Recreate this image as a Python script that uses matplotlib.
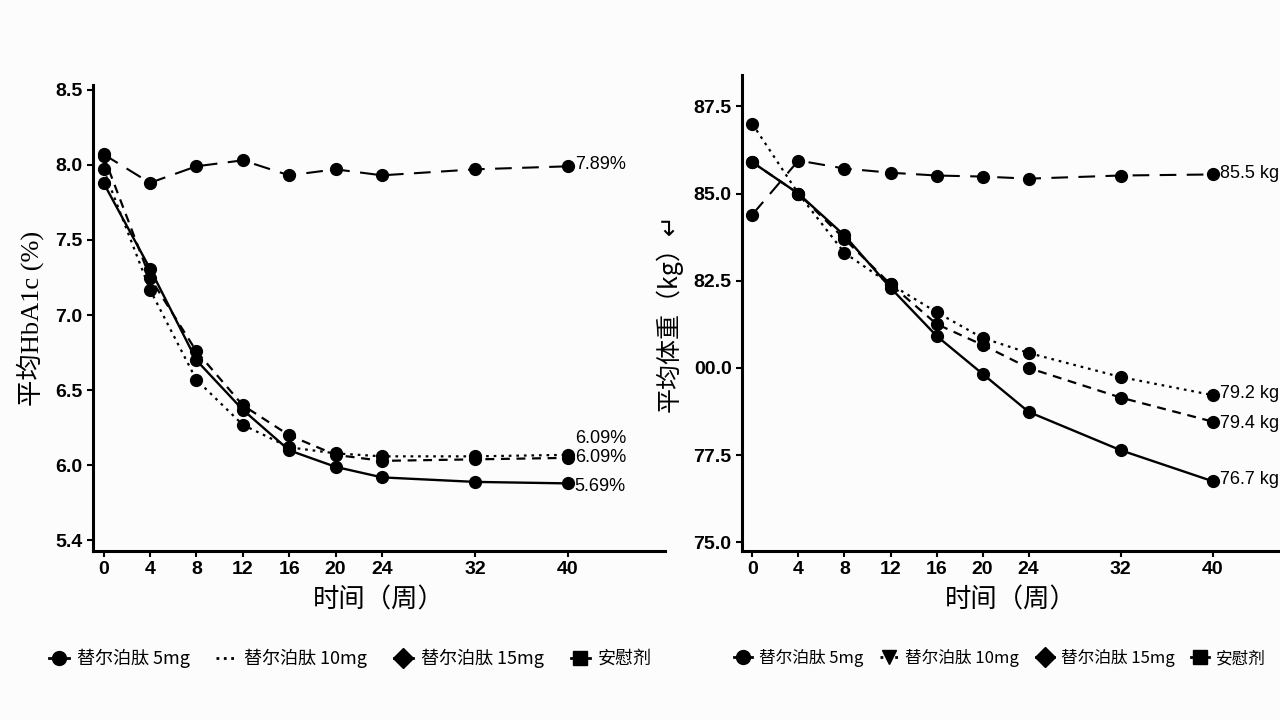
import matplotlib
matplotlib.use("Agg")
import matplotlib.pyplot as plt
from matplotlib.lines import Line2D

plt.rcParams.update({
    "font.family": ["Liberation Sans", "Noto Sans CJK SC", "DejaVu Sans"],
    "axes.linewidth": 2.2,
    "xtick.major.width": 1.5,
    "ytick.major.width": 1.5,
    "xtick.major.size": 4,
    "ytick.major.size": 4,
})
CJK = ["Noto Sans CJK SC", "DejaVu Sans"]

# time points (weeks)
WEEKS = [0, 4, 8, 12, 16, 20, 24, 32, 40]

# HbA1c (%)
HBA_5MG = [7.97, 7.17, 6.57, 6.27, 6.12, 6.08, 6.06, 6.06, 6.07]
HBA_10MG = [8.06, 7.25, 6.76, 6.40, 6.20, 6.07, 6.03, 6.04, 6.05]
HBA_15MG = [7.88, 7.31, 6.70, 6.37, 6.10, 5.99, 5.92, 5.89, 5.88]
HBA_PLACEBO = [8.07, 7.88, 7.99, 8.03, 7.93, 7.97, 7.93, 7.97, 7.99]
HBA_ENDLABELS = ["6.09%", "6.09%", "5.69%", "7.89%"]

# body weight (kg)
WT_5MG = [87.0, 85.0, 83.3, 82.4, 81.6, 80.86, 80.43, 79.74, 79.22]
WT_10MG = [85.9, 85.0, 83.7, 82.4, 81.26, 80.66, 80.0, 79.15, 78.46]
WT_15MG = [85.9, 85.0, 83.8, 82.3, 80.92, 79.83, 78.74, 77.64, 76.75]
WT_PLACEBO = [84.4, 85.95, 85.72, 85.6, 85.52, 85.49, 85.43, 85.52, 85.55]
WT_ENDLABELS = ["79.2 kg", "79.4 kg", "76.7 kg", "85.5 kg"]

SERIES_NAMES = ["替尔泊肽 5mg", "替尔泊肽 10mg", "替尔泊肽 15mg", "安慰剂"]
STYLES = [(0, (1.2, 2.2)), (0, (4, 3)), "-", (0, (8, 5))]
WIDTHS = [1.6, 1.6, 1.7, 1.5]

fig = plt.figure(figsize=(12.8, 7.2), dpi=100, facecolor="#fcfcfc")
ax1 = fig.add_axes([0.0727, 0.2347, 0.447, 0.647])
ax2 = fig.add_axes([0.5797, 0.2347, 0.42, 0.661])


def draw(ax, series, labels, offsets):
    for vals, ls, lw, lab, off in zip(series, STYLES, WIDTHS, labels, offsets):
        ax.plot(WEEKS, vals, color="black", linestyle=ls, linewidth=lw,
                marker="o", markersize=8.5, markerfacecolor="black",
                markeredgecolor="black")
        ax.annotate(lab, (WEEKS[-1], vals[-1]), xytext=(5, off),
                    textcoords="offset points", fontsize=13, va="center",
                    ha="left", annotation_clip=False)
    ax.set_xticks(WEEKS)
    ax.tick_params(axis="both", labelsize=14)
    for t in ax.get_xticklabels() + ax.get_yticklabels():
        t.set_fontweight("bold")
    ax.spines["top"].set_visible(False)
    ax.spines["right"].set_visible(False)
    ax.set_facecolor("#fcfcfc")
    ax.set_xlabel("时间（周）", fontsize=19, family=CJK, labelpad=6)


draw(ax1, [HBA_5MG, HBA_10MG, HBA_15MG, HBA_PLACEBO], HBA_ENDLABELS,
     [12, 0, -2, 1])
ax1.set_xlim(-0.9, 48.4)
ax1.set_ylim(5.43, 8.53)
ax1.set_yticks([5.5, 6.0, 6.5, 7.0, 7.5, 8.0, 8.5])
ax1.set_yticklabels(["5.4", "6.0", "6.5", "7.0", "7.5", "8.0", "8.5"])
ax1.set_ylabel("平均HbA1c (%)", fontsize=19, family=["Liberation Serif"] + CJK,
               labelpad=8)

draw(ax2, [WT_5MG, WT_10MG, WT_15MG, WT_PLACEBO], WT_ENDLABELS,
     [1, -1, 1, 1])
ax2.set_xlim(-0.9, 45.8)
ax2.set_ylim(74.75, 88.4)
ax2.set_yticks([75.0, 77.5, 80.0, 82.5, 85.0, 87.5])
ax2.set_yticklabels(["75.0", "77.5", "00.0", "82.5", "85.0", "87.5"])
ax2.set_ylabel("平均体重（kg）↵", fontsize=18, family=CJK, labelpad=8)

# legends below each panel
left_markers = ["o", "", "D", "s"]
right_markers = ["o", "v", "D", "s"]
for ax, markers, anchor_x, size, spacing in [(ax1, left_markers, 0.45, 13, 1.5),
                                             (ax2, right_markers, 0.48, 12, 1.0)]:
    handles = [Line2D([], [], color="black", linestyle=ls, linewidth=2,
                      marker=m, markersize=10)
               for ls, m in zip(["-", ":", "-", "-"], markers)]
    ax.legend(handles, SERIES_NAMES, loc="upper center",
              bbox_to_anchor=(anchor_x, -0.175), ncol=4, frameon=False,
              handlelength=1.1, handletextpad=0.4, columnspacing=spacing,
              prop={"family": "Noto Sans CJK SC", "size": size})

fig.savefig("out.png", dpi=100, facecolor=fig.get_facecolor())
